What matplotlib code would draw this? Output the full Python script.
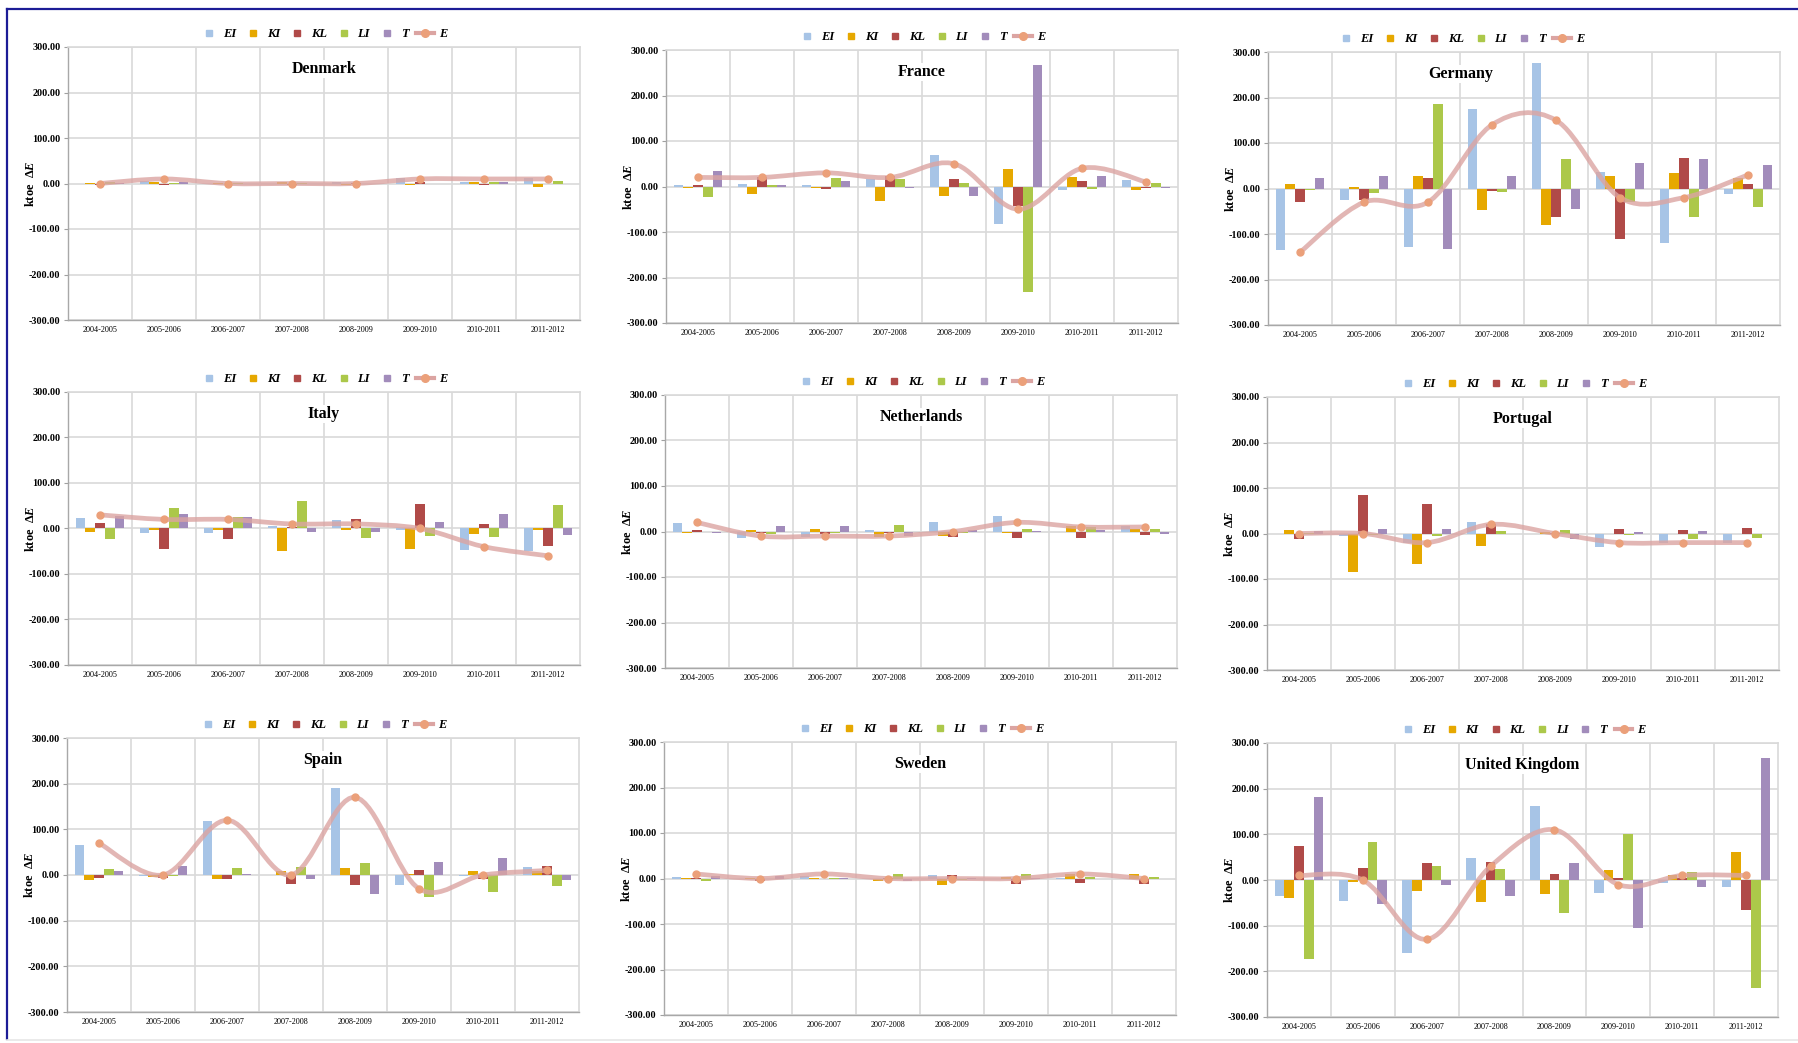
import matplotlib.pyplot as plt
import numpy as np
from matplotlib.path import Path
from matplotlib.patches import PathPatch
from matplotlib.lines import Line2D

plt.rcParams['font.family'] = ['Liberation Serif', 'DejaVu Serif']
plt.rcParams['mathtext.fontset'] = 'custom'
plt.rcParams['mathtext.rm'] = 'Liberation Serif:bold'
plt.rcParams['mathtext.it'] = 'Liberation Serif:bold:italic'
plt.rcParams['mathtext.bf'] = 'Liberation Serif:bold'

periods = ['2004-2005', '2005-2006', '2006-2007', '2007-2008',
           '2008-2009', '2009-2010', '2010-2011', '2011-2012']
countries = ['Denmark', 'France', 'Germany', 'Italy', 'Netherlands',
             'Portugal', 'Spain', 'Sweden', 'United Kingdom']
components = ['EI', 'KI', 'KL', 'LI', 'T']

# one row per country (same order as countries), one value per period, ktoe
EI = [[-2, 5, -2, -1, 4, 11, 3, 12],
      [4, 6, 4, 17, 70, -82, -7, 14],
      [-136, -25, -128, 175, 275, 37, -120, -13],
      [23, -10, -10, 5, 19, -3, -48, -50],
      [19, -15, -12, 3, 21, 35, -2, 13],
      [-2, -5, -20, 25, -2, -30, -20, -20],
      [66, -2, 118, 1, 190, -21, -3, 18],
      [4, -1, 5, -2, 7, -2, 2, -2],
      [-34, -47, -160, 48, 162, -28, -7, -15]]
KI = [[1, 4, 1, 3, -3, -3, 4, -8],
      [-4, -16, -3, -32, -21, 38, 20, -8],
      [10, 3, 27, -48, -80, 28, 33, 23],
      [-8, -3, -3, -50, -3, -46, -13, -4],
      [-3, 3, 5, -13, -9, -4, 12, 5],
      [8, -85, -68, -28, 4, -2, -2, -2],
      [-12, -4, -8, 8, 16, 2, 8, 8],
      [2, 2, 2, -5, -14, 4, 10, 9],
      [-40, -5, -24, -48, -30, 21, 12, 62]]
KL = [[-4, -3, -2, -3, 2, 4, -3, -2],
      [4, 20, -6, 22, 16, -42, 12, -3],
      [-30, -25, 22, -5, -62, -110, 68, 10],
      [12, -45, -22, 3, 20, 53, 10, -39],
      [3, -3, -6, -3, -11, -15, -15, -8],
      [-12, 85, 64, 20, 2, 10, 8, 12],
      [-6, -6, -8, -19, -21, 10, -8, 19],
      [2, -5, -2, 1, 8, -12, -9, -11],
      [75, 26, 38, 40, 14, 5, 5, -65]]
LI = [[3, 2, 1, 1, -2, -2, 3, 6],
      [-22, 4, 19, 16, 7, -232, -6, 7],
      [-4, -10, 185, -7, 64, -30, -62, -40],
      [-22, 45, 26, 60, -21, -17, -19, 51],
      [-2, -6, -3, 14, -3, 5, 10, 5],
      [2, -3, -5, 6, 8, -3, -12, -10],
      [14, -2, 15, 17, 27, -48, -38, -24],
      [-5, -2, 1, 10, -3, 9, 4, 4],
      [-173, 83, 31, 25, -73, 100, 17, -237]]
T = [[2, 3, -1, -2, -2, -1, 3, -2],
     [35, 4, 13, -3, -20, 268, 23, -3],
     [22, 28, -134, 28, -46, 57, 64, 51],
     [28, 32, 26, -7, -7, 14, 31, -15],
     [-3, 13, 13, -9, 3, 2, 3, -5],
     [6, 10, 10, -2, -12, 3, 6, -2],
     [8, 20, 3, -8, -42, 29, 38, -12],
     [5, 5, 2, -5, 2, 2, -1, -1],
     [182, -52, -12, -34, 38, -106, -15, 267]]
E = [[0, 10, 0, 0, 0, 10, 10, 10],
     [20, 20, 30, 20, 50, -50, 40, 10],
     [-140, -30, -30, 140, 150, -20, -20, 30],
     [30, 20, 20, 10, 10, 0, -40, -60],
     [20, -10, -10, -10, 0, 20, 10, 10],
     [0, 0, -20, 20, 0, -20, -20, -20],
     [70, 0, 120, 0, 170, -30, 0, 10],
     [10, 0, 10, 0, 0, 0, 10, 0],
     [10, 0, -130, 30, 110, -10, 10, 10]]

bar_colors = ['#a7c4e6', '#e6a800', '#b04a48', '#acc84a', '#a28cbb']
line_color = '#dba4a2'
marker_color = '#eba07a'

# plot area boxes in pixels of the 1798x1043 picture: left, top, right, bottom
W, H = 1798, 1043
boxes = [(68, 47, 580, 320), (666, 50, 1178, 323), (1268, 52, 1780, 325),
         (68, 392, 580, 665), (665, 395, 1177, 668), (1267, 397, 1779, 670),
         (67, 738, 579, 1012), (664, 742, 1176, 1015), (1267, 743, 1778, 1017)]
# Germany's title and legend sit left of the plot centre
centre_shift = {'Germany': -63}


def smooth_path(x, y):
    # Catmull-Rom style cubic Bezier through the points, like a smoothed Excel line
    pts = np.column_stack([x, y]).astype(float)
    n = len(pts)
    verts = [pts[0]]
    codes = [Path.MOVETO]
    for i in range(n - 1):
        p0 = pts[max(i - 1, 0)]
        p1 = pts[i]
        p2 = pts[i + 1]
        p3 = pts[min(i + 2, n - 1)]
        verts += [p1 + (p2 - p0) / 6, p2 - (p3 - p1) / 6, p2]
        codes += [Path.CURVE4] * 3
    return Path(verts, codes)


fig = plt.figure(figsize=(W / 100, H / 100), dpi=100)
fig.patch.set_facecolor('white')

x = np.arange(len(periods))
w = 0.152
series = [EI, KI, KL, LI, T]

for c, name in enumerate(countries):
    l, t, r, b = boxes[c]
    ax = fig.add_axes([l / W, 1 - b / H, (r - l) / W, (b - t) / H])
    ax.set_axisbelow(True)

    for k, data in enumerate(series):
        ax.bar(x + (k - 2) * w, data[c], width=w, color=bar_colors[k], zorder=2)

    patch = PathPatch(smooth_path(x, E[c]), facecolor='none', edgecolor=line_color,
                      lw=3.4, alpha=0.8, zorder=3, capstyle='round')
    ax.add_patch(patch)
    ax.plot(x, E[c], 'o', color=marker_color, markersize=5, zorder=4)

    ax.set_xlim(-0.5, len(periods) - 0.5)
    ax.set_ylim(-300, 300)
    ax.set_yticks(np.arange(-300, 301, 100))
    ax.set_yticklabels(['%.2f' % v for v in np.arange(-300, 301, 100)],
                       fontsize=7.3, fontweight='bold')
    ax.set_xticks(x)
    ax.set_xticklabels(periods, fontsize=5.9)
    ax.set_xticks(np.arange(0.5, len(periods) - 1, 1), minor=True)
    ax.tick_params(axis='x', which='both', length=0, pad=4)
    ax.tick_params(axis='y', length=3, width=0.8, color='#a0a0a0', pad=2.5)
    ax.grid(axis='y', color='#d9d9d9', lw=1.2)
    ax.grid(axis='x', which='minor', color='#d9d9d9', lw=1.2)
    for side in ['top', 'right']:
        ax.spines[side].set_color('#d9d9d9')
        ax.spines[side].set_linewidth(1.2)
    for side in ['left', 'bottom']:
        ax.spines[side].set_color('#a8a8a8')
        ax.spines[side].set_linewidth(1.0)

    ax.set_ylabel(r'ktoe  $\Delta E$', fontsize=9, fontweight='bold')
    ax.yaxis.set_label_coords(-31 / (r - l), 0.5)

    cx = 0.5 + centre_shift.get(name, 0) / (r - l)
    ax.text(cx, 1 - 22 / (b - t), name, transform=ax.transAxes, ha='center',
            va='center', fontsize=11.5, fontweight='bold', zorder=6,
            bbox=dict(facecolor='white', edgecolor='none', pad=1))

    handles = [Line2D([], [], marker='s', ls='none', color=col, markersize=5)
               for col in bar_colors]
    handles.append(Line2D([], [], color=line_color, lw=3, marker='o',
                          markerfacecolor=marker_color, markeredgecolor=marker_color,
                          markersize=5.5))
    ax.legend(handles, components + ['E'], loc='center', ncol=6, frameon=False,
              bbox_to_anchor=(cx, 1 + 13 / (b - t)), handlelength=1.4,
              handletextpad=0.4, columnspacing=0.65, borderpad=0, borderaxespad=0,
              prop=dict(family='Liberation Serif', weight='bold', style='italic', size=9))

# page frame: blue rule at top and left, faint rule at the bottom
fig.add_artist(Line2D([6.5 / W, 1], [1 - 8.5 / H, 1 - 8.5 / H], transform=fig.transFigure,
                      color='#1c1c96', lw=1.6))
fig.add_artist(Line2D([6.5 / W, 6.5 / W], [1 - 8.5 / H, 1 - 1039 / H], transform=fig.transFigure,
                      color='#1c1c96', lw=1.6))
fig.add_artist(Line2D([6.5 / W, 1], [1 - 1039.5 / H, 1 - 1039.5 / H], transform=fig.transFigure,
                      color='#e6e6e6', lw=1.2))

fig.savefig('out.png', dpi=100)
